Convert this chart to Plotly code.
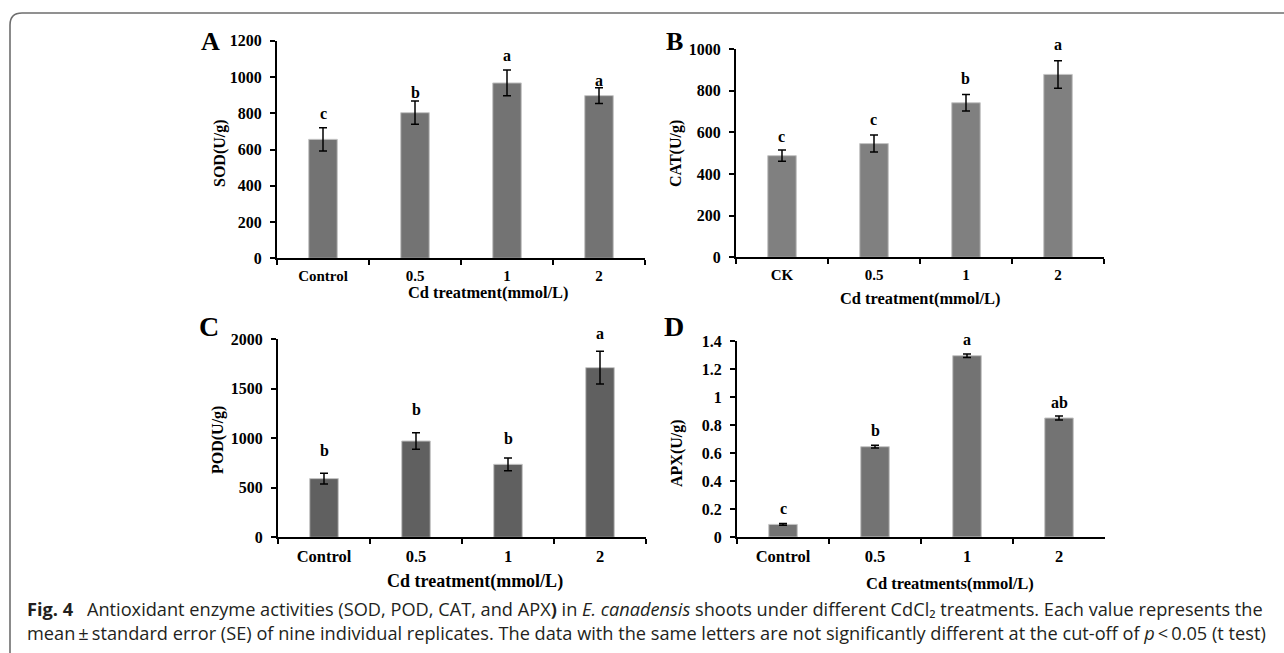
import plotly.graph_objects as go

# ---------------- data ----------------
doses = ["Control", "0.5", "1", "2"]
doses_ck = ["CK", "0.5", "1", "2"]

sod = [656, 803, 967, 897]
sod_se = [64, 64, 71, 44]
sod_letters = ["c", "b", "a", "a"]

cat = [488, 546, 742, 878]
cat_se = [27, 41, 40, 66]
cat_letters = ["c", "c", "b", "a"]

pod = [592, 971, 736, 1711]
pod_se = [54, 84, 64, 165]
pod_letters = ["b", "b", "b", "a"]

apx = [0.090, 0.645, 1.295, 0.850]
apx_se = [0.006, 0.010, 0.012, 0.014]
apx_letters = ["c", "b", "a", "ab"]

# ---------------- layout helpers ----------------
W, H = 1284, 653


def fx(p):
    return p / W


def fy(p):
    return 1 - p / H


SERIF = "Liberation Serif"

panels = [
    dict(cats=doses, vals=sod, se=sod_se, letters=sod_letters, color="#737373",
         box=(277, 645, 40.7, 258.3), ymax=1200, dtick=200,
         ytitle="SOD(U/g)", ytitle_pos=(220, 153),
         xtitle="Cd treatment(mmol/L)", xtitle_pos=(488, 292), xtitle_size=16.4,
         xtick_size=15, letter_off=[9.3, 4.3, 10, 2.7],
         tag="A", tag_pos=(210, 42), tag_size=26),
    dict(cats=doses_ck, vals=cat, se=cat_se, letters=cat_letters, color="#808080",
         box=(736, 1104, 49, 257.3), ymax=1000, dtick=200,
         ytitle="CAT(U/g)", ytitle_pos=(676, 153),
         xtitle="Cd treatment(mmol/L)", xtitle_pos=(920, 298), xtitle_size=16.4,
         xtick_size=15, letter_off=[9.3, 11, 11.7, 11.3],
         tag="B", tag_pos=(674, 42), tag_size=26),
    dict(cats=doses, vals=pod, se=pod_se, letters=pod_letters, color="#606060",
         box=(278, 646, 339, 537.3), ymax=2000, dtick=500,
         ytitle="POD(U/g)", ytitle_pos=(218, 440),
         xtitle="Cd treatment(mmol/L)", xtitle_pos=(475, 581), xtitle_size=18,
         xtick_size=16.5, letter_off=[18.3, 18.7, 15.3, 13],
         tag="C", tag_pos=(209, 326), tag_size=28),
    dict(cats=doses, vals=apx, se=apx_se, letters=apx_letters, color="#737373",
         box=(737, 1105, 341, 537), ymax=1.4, dtick=0.2,
         ytitle="APX(U/g)", ytitle_pos=(677, 453),
         xtitle="Cd treatments(mmol/L)", xtitle_pos=(950, 583), xtitle_size=16.5,
         xtick_size=16.5, letter_off=[10.3, 10.3, 10, 9.3],
         tag="D", tag_pos=(674, 327), tag_size=28),
]

fig = go.Figure()
annotations = []
layout_axes = {}

for i, p in enumerate(panels):
    n = "" if i == 0 else str(i + 1)
    xid, yid = "x" + n, "y" + n
    x0, x1, ytop, ybot = p["box"]

    fig.add_trace(go.Bar(
        x=p["cats"], y=p["vals"], width=0.31,
        marker=dict(color=p["color"], line=dict(color="#c4c4c4", width=1)),
        error_y=dict(type="data", array=p["se"], visible=True, color="black",
                     thickness=1.5, width=4),
        xaxis=xid, yaxis=yid, showlegend=False, hoverinfo="x+y",
    ))

    layout_axes["xaxis" + n] = dict(
        domain=[fx(x0), fx(x1)], anchor=yid, type="category",
        categoryorder="array", categoryarray=p["cats"],
        range=[-0.5, 3.5], showline=True, linecolor="black", linewidth=2,
        ticks="outside", tickson="boundaries", ticklen=5, tickwidth=2,
        tickcolor="black", showgrid=False, fixedrange=True, automargin=False,
        ticklabelstandoff=3,
        tickfont=dict(family=SERIF, size=p["xtick_size"], color="black", weight="bold"),
    )
    layout_axes["yaxis" + n] = dict(
        domain=[fy(ybot), fy(ytop)], anchor=xid, range=[0, p["ymax"]],
        dtick=p["dtick"], tick0=0, showline=True, linecolor="black", linewidth=2,
        ticks="outside", ticklen=5, tickwidth=2, tickcolor="black",
        showgrid=False, zeroline=False, fixedrange=True, ticklabelstandoff=5,
        automargin=False,
        tickfont=dict(family=SERIF, size=16, color="black", weight="bold"),
    )

    # significance letters (category index positions)
    for j, (v, s, lt, off) in enumerate(zip(p["vals"], p["se"], p["letters"], p["letter_off"])):
        annotations.append(dict(
            x=j, y=v + s, xref=xid, yref=yid, text=lt, showarrow=False,
            xanchor="center", yanchor="bottom", yshift=off - 6,
            font=dict(family=SERIF, size=16, color="black", weight="bold"),
        ))

    # axis titles
    annotations.append(dict(
        x=fx(p["xtitle_pos"][0]), y=fy(p["xtitle_pos"][1]), xref="paper", yref="paper",
        text=p["xtitle"], showarrow=False, xanchor="center", yanchor="middle",
        font=dict(family=SERIF, size=p["xtitle_size"], color="black", weight="bold"),
    ))
    annotations.append(dict(
        x=fx(p["ytitle_pos"][0]), y=fy(p["ytitle_pos"][1]), xref="paper", yref="paper",
        text=p["ytitle"], showarrow=False, xanchor="center", yanchor="middle",
        textangle=-90,
        font=dict(family=SERIF, size=16, color="black", weight="bold"),
    ))
    # panel tag
    annotations.append(dict(
        x=fx(p["tag_pos"][0]), y=fy(p["tag_pos"][1]), xref="paper", yref="paper",
        text=p["tag"], showarrow=False, xanchor="center", yanchor="middle",
        font=dict(family=SERIF, size=p["tag_size"], color="black", weight="bold"),
    ))

# caption (two lines in one text block)
cap_font = dict(family="Open Sans", size=18.2, color="#231f20")
caption = ("<b>Fig. 4</b>\u2002 Antioxidant enzyme activities (SOD, POD, CAT, and APX<b>)</b> in "
           "<i>E. canadensis</i> shoots under different CdCl\u2082 treatments. "
           "Each value represents the<br>"
           "mean\u2009\u00b1\u2009standard error (SE) of nine individual replicates. "
           "The data with the same letters are not significantly different at the "
           "cut-off of <i>p</i>\u2009&lt;\u20090.05 (t test)")
annotations.append(dict(x=fx(25), y=fy(620.5), xref="paper", yref="paper", text=caption,
                        showarrow=False, xanchor="left", yanchor="middle", align="left",
                        font=cap_font))

# frame: left and top border with rounded top-left corner
r = 12
frame_path = (f"M {fx(10)},0 L {fx(10)},{fy(13 + r)} "
              f"Q {fx(10)},{fy(13)} {fx(10 + r)},{fy(13)} L 1,{fy(13)}")

fig.update_layout(
    width=W, height=H, margin=dict(l=0, r=0, t=0, b=0, pad=0, autoexpand=False),
    paper_bgcolor="white", plot_bgcolor="white",
    bargap=0.69, annotations=annotations,
    shapes=[dict(type="path", path=frame_path, xref="paper", yref="paper",
                 line=dict(color="#6e6e6e", width=1.6))],
    **layout_axes,
)

fig.write_html("out.html", config={"displayModeBar": False},
               post_script="document.body.style.margin='0';document.body.style.overflow='hidden';")
